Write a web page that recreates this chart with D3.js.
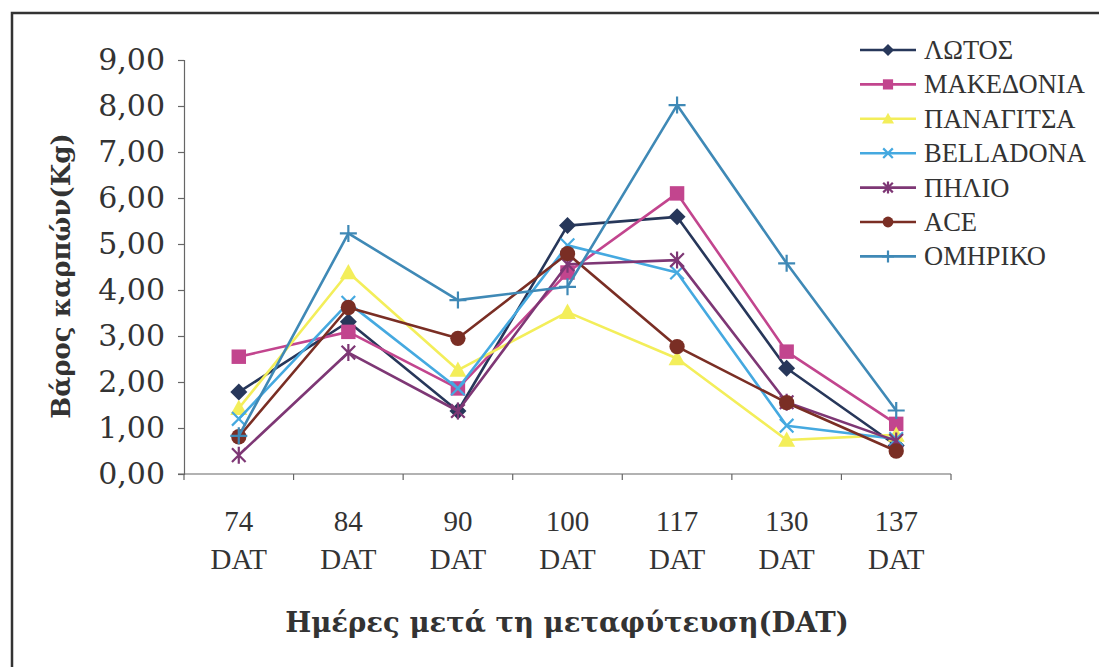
<!DOCTYPE html>
<html>
<head>
<meta charset="utf-8">
<script src="https://cdn.jsdelivr.net/npm/d3@7"></script>
<style>
  html, body { margin: 0; padding: 0; background: #fff; }
  svg { display: block; }
</style>
</head>
<body>
<svg id="chart" width="1099" height="667"></svg>
<script>
// Harvest dates (days after transplanting)
const days = ["74", "84", "90", "100", "117", "130", "137"];

// Fruit weight (kg) per variety at each harvest date
const lotos      = [1.78, 3.31, 1.37, 5.40, 5.59, 2.30, 0.62];
const makedonia  = [2.55, 3.09, 1.86, 4.38, 6.10, 2.66, 1.09];
const panagitsa  = [1.43, 4.38, 2.26, 3.52, 2.51, 0.74, 0.85];
const belladona  = [1.20, 3.72, 1.86, 4.97, 4.38, 1.05, 0.76];
const pilio      = [0.41, 2.64, 1.37, 4.56, 4.65, 1.56, 0.72];
const ace        = [0.81, 3.62, 2.95, 4.79, 2.77, 1.55, 0.50];
const omiriko    = [0.83, 5.23, 3.78, 4.07, 8.02, 4.58, 1.38];

const seriesNames = ["ΛΩΤΟΣ", "ΜΑΚΕΔΟΝΙΑ", "ΠΑΝΑΓΙΤΣΑ", "BELLADONA", "ΠΗΛΙΟ", "ACE", "ΟΜΗΡΙΚΟ"];
const yTicks = [0, 1, 2, 3, 4, 5, 6, 7, 8, 9];

const yTitle = "Βάρος καρπών(Kg)";
const xTitle = "Ημέρες μετά τη μεταφύτευση(DAT)";

const series = [
  { name: seriesNames[0], values: lotos,     color: "#27375a", marker: "diamond" },
  { name: seriesNames[1], values: makedonia, color: "#c2458e", marker: "square" },
  { name: seriesNames[2], values: panagitsa, color: "#f3ee5a", marker: "triangle" },
  { name: seriesNames[3], values: belladona, color: "#45a9e0", marker: "x" },
  { name: seriesNames[4], values: pilio,     color: "#7e3775", marker: "star" },
  { name: seriesNames[5], values: ace,       color: "#7a2e24", marker: "circle" },
  { name: seriesNames[6], values: omiriko,   color: "#3f89b6", marker: "plus" }
];

const svg = d3.select("#chart");

// outer frame (top and left edges visible)
svg.append("path")
  .attr("d", "M12,667 L12,13 L1099,13")
  .attr("fill", "none")
  .attr("stroke", "#333")
  .attr("stroke-width", 2.5);

const plot = { left: 184, right: 951, top: 60, bottom: 474 };

const x = d3.scaleBand().domain(days).range([plot.left, plot.right]);
const y = d3.scaleLinear().domain([0, 9]).range([plot.bottom, plot.top]);

// y axis
const yAxis = svg.append("g")
  .attr("transform", `translate(${plot.left},0)`)
  .call(d3.axisLeft(y).tickValues(yTicks).tickSize(6).tickPadding(13)
    .tickFormat(d => d3.format(".2f")(d).replace(".", ",")));
yAxis.select(".domain").attr("stroke", "#666").attr("stroke-width", 1.2);
yAxis.selectAll(".tick line").attr("stroke", "#666").attr("stroke-width", 1.2);
yAxis.selectAll("text")
  .attr("font-family", "'DejaVu Serif', serif")
  .attr("font-size", 30)
  .attr("fill", "#333");

// x axis: ticks on category boundaries
const xg = svg.append("g").attr("transform", `translate(0,${plot.bottom})`);
xg.append("line")
  .attr("x1", plot.left - 6).attr("x2", plot.right)
  .attr("stroke", "#666").attr("stroke-width", 1.2);
const bounds = days.map(d => x(d)).concat([x(days[days.length - 1]) + x.bandwidth()]);
xg.selectAll("line.b").data(bounds).join("line")
  .attr("class", "b")
  .attr("x1", d => d).attr("x2", d => d)
  .attr("y1", 0).attr("y2", 6)
  .attr("stroke", "#666").attr("stroke-width", 1.2);
const xl = xg.selectAll("text.c").data(days).join("text")
  .attr("class", "c")
  .attr("font-family", "'Liberation Serif', serif")
  .attr("font-size", 29)
  .attr("fill", "#333")
  .attr("text-anchor", "middle");
xl.append("tspan").attr("x", d => x(d) + x.bandwidth() / 2).attr("y", 57).text(d => d);
xl.append("tspan").attr("x", d => x(d) + x.bandwidth() / 2).attr("y", 95).text("DAT");

// axis titles
svg.append("text")
  .attr("transform", "translate(70,276) rotate(-90)")
  .attr("text-anchor", "middle")
  .attr("font-family", "'DejaVu Serif', serif")
  .attr("font-weight", "bold")
  .attr("font-size", 26)
  .attr("fill", "#333")
  .text(yTitle);

svg.append("text")
  .attr("x", 567).attr("y", 632)
  .attr("text-anchor", "middle")
  .attr("font-family", "'DejaVu Serif', serif")
  .attr("font-weight", "bold")
  .attr("font-size", 27.5)
  .attr("fill", "#333")
  .text(xTitle);

// marker drawing
function drawMarker(g, type, color, s) {
  const lw = 2.2;
  switch (type) {
    case "diamond":
      g.append("path").attr("d", `M0,${-s} L${s},0 L0,${s} L${-s},0Z`).attr("fill", color);
      break;
    case "square":
      g.append("rect").attr("x", -s * 0.85).attr("y", -s * 0.85)
        .attr("width", s * 1.7).attr("height", s * 1.7).attr("fill", color);
      break;
    case "triangle":
      g.append("path").attr("d", `M0,${-s} L${s},${s * 0.8} L${-s},${s * 0.8}Z`).attr("fill", color);
      break;
    case "x":
      g.append("path").attr("d", `M${-s * 0.8},${-s * 0.8} L${s * 0.8},${s * 0.8} M${s * 0.8},${-s * 0.8} L${-s * 0.8},${s * 0.8}`)
        .attr("stroke", color).attr("stroke-width", lw);
      break;
    case "star":
      g.append("path").attr("d", `M${-s * 0.8},${-s * 0.8} L${s * 0.8},${s * 0.8} M${s * 0.8},${-s * 0.8} L${-s * 0.8},${s * 0.8} M0,${-s} L0,${s}`)
        .attr("stroke", color).attr("stroke-width", lw);
      break;
    case "circle":
      g.append("circle").attr("r", s * 0.9).attr("fill", color);
      break;
    case "plus":
      g.append("path").attr("d", `M${-s},0 L${s},0 M0,${-s} L0,${s}`)
        .attr("stroke", color).attr("stroke-width", lw);
      break;
  }
}

const line = d3.line()
  .x((d, i) => x(days[i]) + x.bandwidth() / 2)
  .y(d => y(d));

series.forEach(s => {
  const g = svg.append("g");
  g.append("path")
    .attr("d", line(s.values))
    .attr("fill", "none")
    .attr("stroke", s.color)
    .attr("stroke-width", 2.6)
    .attr("stroke-linejoin", "round");
  s.values.forEach((v, i) => {
    const m = g.append("g")
      .attr("transform", `translate(${x(days[i]) + x.bandwidth() / 2},${y(v)})`);
    drawMarker(m, s.marker, s.color, 8.5);
  });
});

// legend
const legend = svg.append("g");
series.forEach((s, i) => {
  const ly = 50 + i * 34.4;
  const row = legend.append("g").attr("transform", `translate(0,${ly})`);
  row.append("line").attr("x1", 860).attr("x2", 916)
    .attr("stroke", s.color).attr("stroke-width", 2.6);
  const m = row.append("g").attr("transform", "translate(888,0)");
  drawMarker(m, s.marker, s.color, 6);
  row.append("text")
    .attr("x", 924).attr("y", 9)
    .attr("font-family", "'Liberation Serif', serif")
    .attr("font-size", 26.5)
    .attr("fill", "#333")
    .text(s.name);
});
</script>
</body>
</html>
